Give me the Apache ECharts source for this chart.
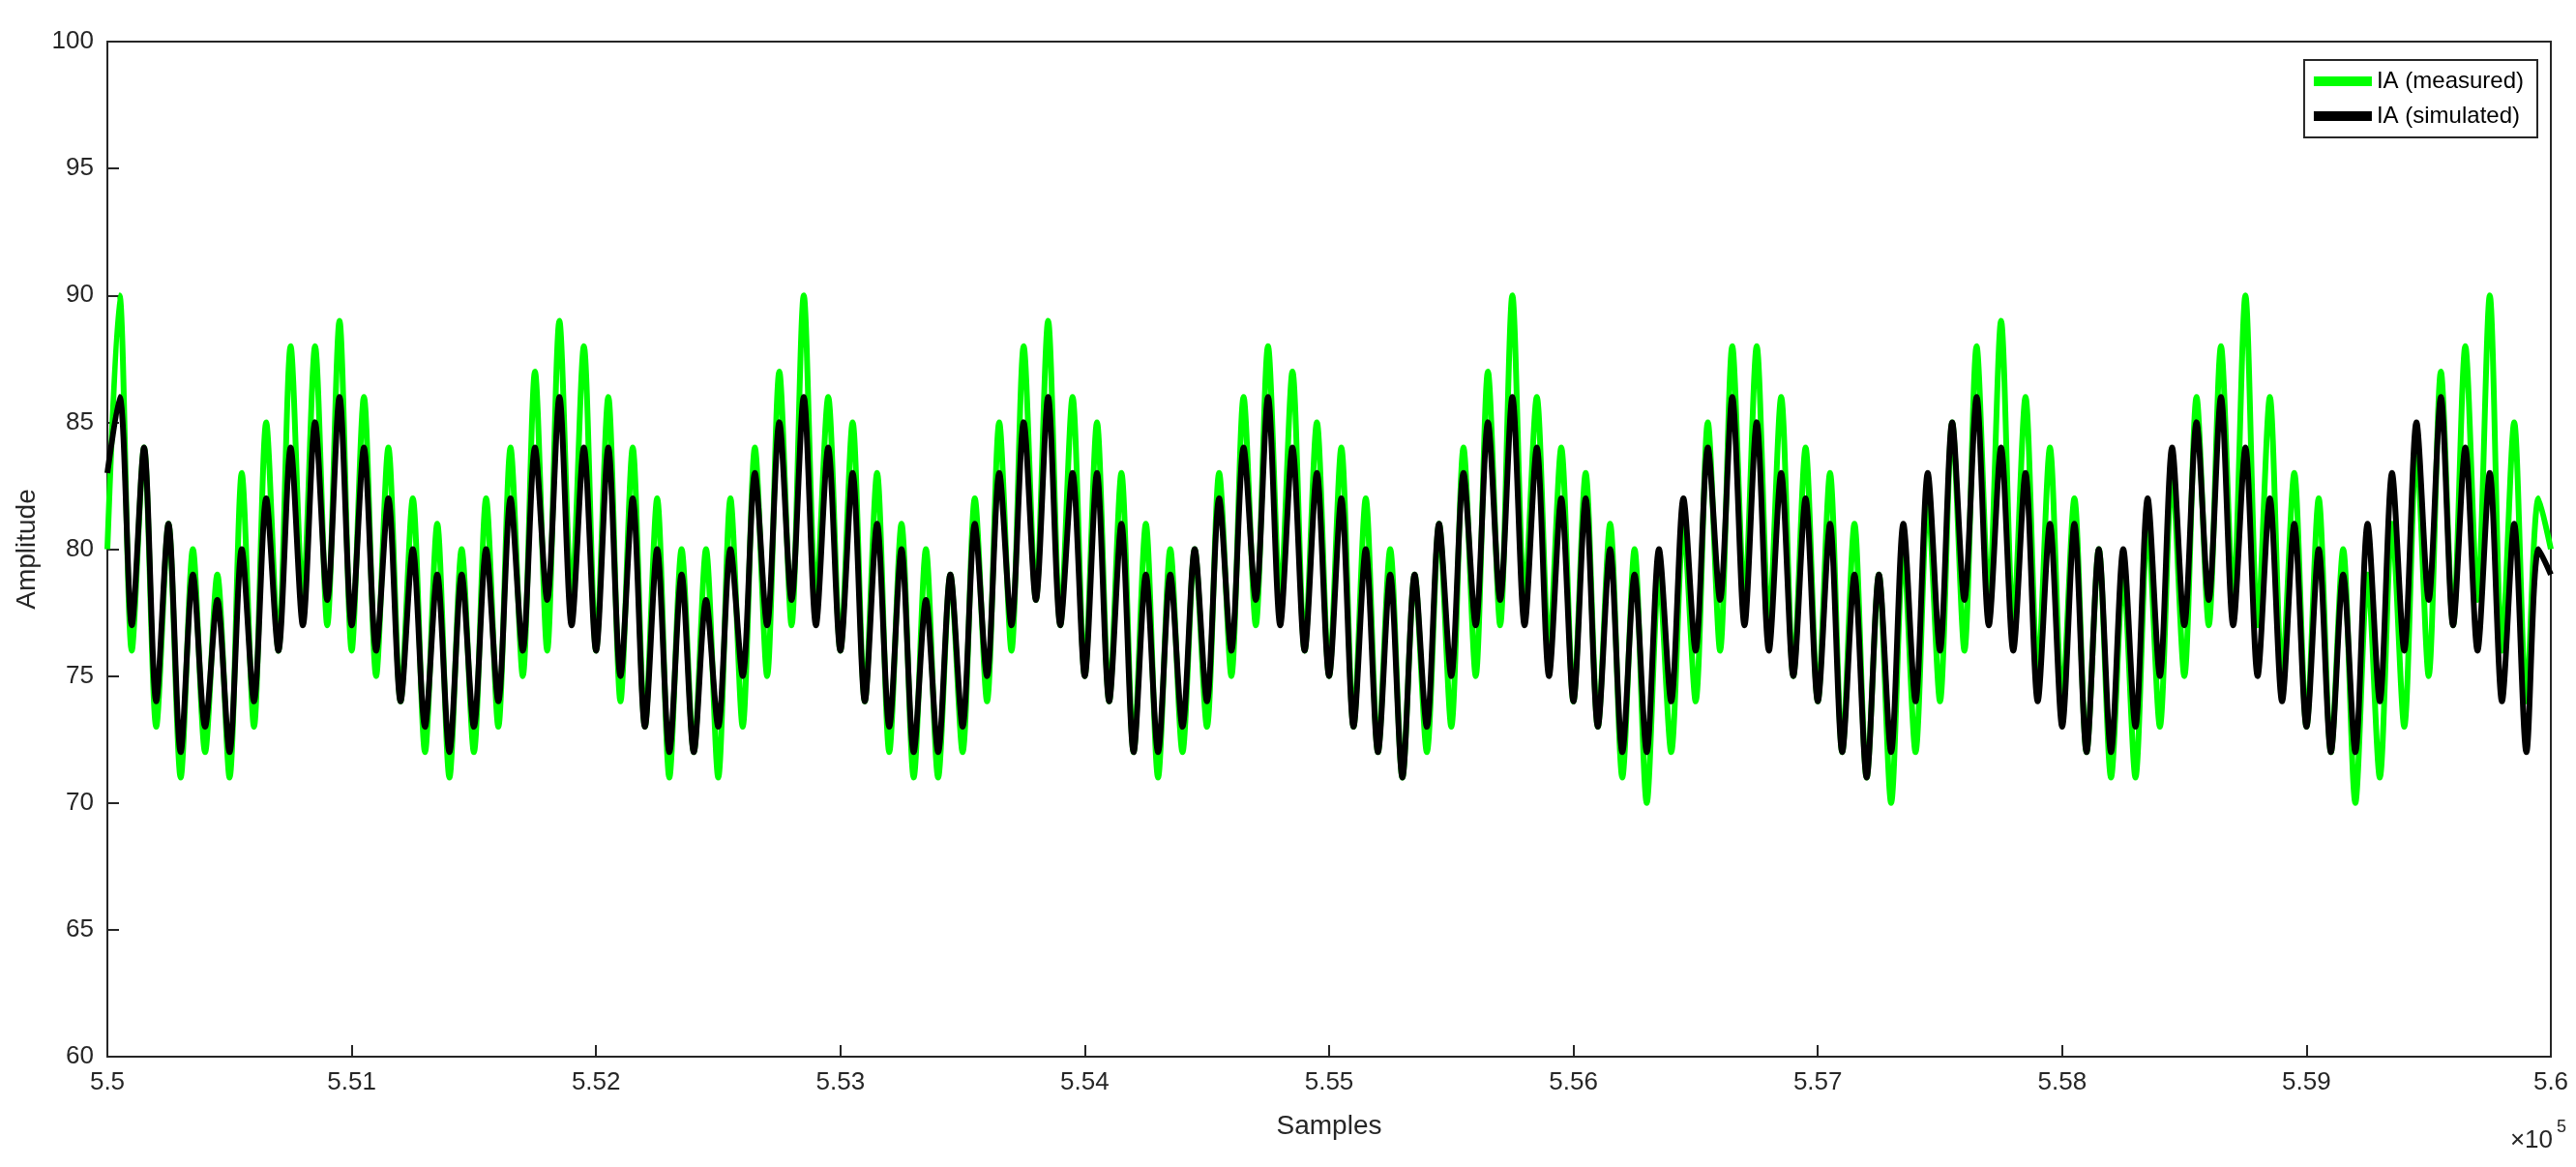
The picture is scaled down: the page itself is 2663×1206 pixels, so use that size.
<!DOCTYPE html>
<html><head><meta charset="utf-8">
<script src="https://cdn.jsdelivr.net/npm/echarts@6/dist/echarts.min.js"></script>
<style>html,body{margin:0;padding:0;background:#fff}#c{width:2663px;height:1206px}</style>
</head><body><div id="c"></div>
<script>
const xStart = 550000, xStep = 50;
const measured = [
80,90,76,84,73,81,71,80,72,79,71,83,73,85,76,88,78,88,77,89,
76,86,75,84,74,82,72,81,71,80,72,82,73,84,75,87,76,89,78,88,
76,86,74,84,73,82,71,80,72,80,71,82,73,84,75,87,77,90,78,86,
76,85,74,83,72,81,71,80,71,79,72,82,74,85,76,88,78,89,77,86,
75,85,74,83,72,81,71,80,72,80,73,83,75,86,77,88,78,87,76,85,
75,84,73,82,72,80,71,79,72,81,73,84,75,87,77,90,78,86,76,84,
74,83,73,81,71,80,70,79,72,81,74,85,76,88,78,88,77,86,75,84,
74,83,72,81,71,79,70,80,72,82,74,85,76,88,78,89,77,86,75,84,
74,82,72,80,71,79,71,81,73,83,75,86,77,88,78,90,77,86,75,83,
73,82,72,80,70,79,71,81,73,84,75,87,77,88,78,90,76,85,74,82,
80];
const simulated = [
83,86,77,84,74,81,72,79,73,78,72,80,74,82,76,84,77,85,78,86,
77,84,76,82,74,80,73,79,72,79,73,80,74,82,76,84,78,86,77,84,
76,84,75,82,73,80,72,79,72,78,73,80,75,83,77,85,78,86,77,84,
76,83,74,81,73,80,72,78,72,79,73,81,75,83,77,85,78,86,77,83,
75,83,74,81,72,79,72,79,73,80,74,82,76,84,78,86,77,84,76,83,
75,82,73,80,72,79,71,79,73,81,75,83,77,85,78,86,77,84,75,82,
74,82,73,80,72,79,72,80,74,82,76,84,78,86,77,85,76,83,75,82,
74,81,72,79,71,79,72,81,74,83,76,85,78,86,77,84,76,83,74,81,
73,81,72,80,72,80,73,82,75,84,77,85,78,86,77,84,75,82,74,81,
73,80,72,79,72,81,74,83,76,85,78,86,77,84,76,83,74,81,72,80,
79];
const toPairs = a => a.map((v,i)=>[xStart+i*xStep, v]);
const font = 'Liberation Sans, Arial, sans-serif';
const ax = {show:true,lineStyle:{color:'#262626',width:2}};
const chart = echarts.init(document.getElementById('c'));
chart.setOption({
  animation:false,
  grid:{left:111,right:26,top:43,bottom:114,show:true,borderColor:'#262626',borderWidth:2},
  legend:{right:40,top:62,orient:'vertical',backgroundColor:'#fff',borderColor:'#262626',borderWidth:2,
    padding:[10,14,10,10],itemWidth:60,itemHeight:10,itemGap:12,
    textStyle:{fontFamily:font,fontSize:24,color:'#000'},
    data:[{name:'IA (measured)',icon:'rect'},{name:'IA (simulated)',icon:'rect'}]},
  xAxis:{type:'value',min:550000,max:560000,interval:1000,
    name:'Samples',nameLocation:'middle',nameGap:58,nameTextStyle:{fontFamily:font,fontSize:28,color:'#262626'},
    axisLine:ax,axisTick:{inside:true,length:12,lineStyle:{color:'#262626',width:2}},
    axisLabel:{fontFamily:font,fontSize:26,color:'#262626',margin:14,formatter:v=>(v/1e5).toFixed(v%10000===0?1:2)},
    splitLine:{show:false}},
  yAxis:{type:'value',min:60,max:100,interval:5,
    name:'Amplitude',nameLocation:'middle',nameGap:58,nameTextStyle:{fontFamily:font,fontSize:28,color:'#262626'},
    axisLine:ax,axisTick:{inside:true,length:12,lineStyle:{color:'#262626',width:2}},
    axisLabel:{fontFamily:font,fontSize:26,color:'#262626',margin:14},splitLine:{show:false}},
  graphic:[{type:'text',right:24,bottom:14,style:{text:'×10',font:'26px '+font,fill:'#262626'}},
    {type:'text',right:10,bottom:32,style:{text:'5',font:'18px '+font,fill:'#262626'}}],
  series:[
    {name:'IA (measured)',type:'line',data:toPairs(measured),showSymbol:false,smooth:0.3,color:'#00ff00',lineStyle:{width:6,color:'#00ff00'}},
    {name:'IA (simulated)',type:'line',data:toPairs(simulated),showSymbol:false,smooth:0.3,color:'#000',lineStyle:{width:6,color:'#000'}}
  ]
});
</script></body></html>
